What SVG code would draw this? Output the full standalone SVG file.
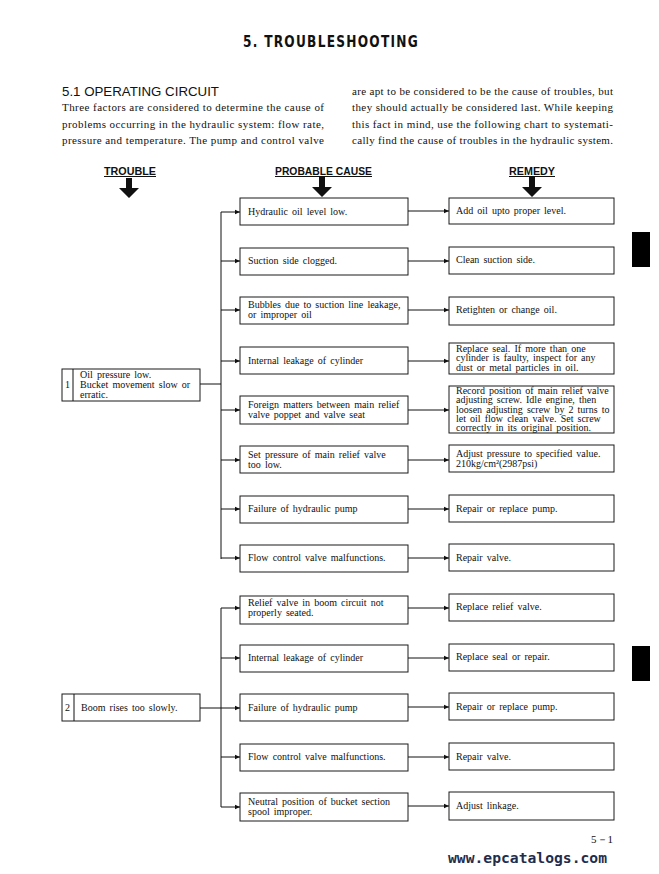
<svg xmlns="http://www.w3.org/2000/svg" width="659" height="874" viewBox="0 0 659 874">
<style>
.box{fill:#fff;stroke:#1a1a1a;stroke-width:1}
.t{font-family:"Liberation Serif",serif;font-size:10px;fill:#111;word-spacing:1.6px}
.b{font-family:"Liberation Serif",serif;font-size:11px;fill:#111}
.h{font-family:"Liberation Sans",Arial,sans-serif;font-size:10px;font-weight:bold;fill:#111;text-decoration:underline}
.c{stroke:#111;stroke-width:1;fill:none}
.a{stroke:#111;stroke-width:1;fill:none;marker-end:url(#ah)}
.big{fill:#111}
</style>
<defs>
<marker id="ah" markerUnits="userSpaceOnUse" markerWidth="6" markerHeight="6" refX="5" refY="3" orient="auto">
<path d="M0,0.8 L5,3 L0,5.2 z" fill="#111"/>
</marker>
</defs>
<rect width="659" height="874" fill="#fff"/>

<g id="title">
<text x="331" y="47" text-anchor="middle" font-family="'DejaVu Sans Condensed','DejaVu Sans',sans-serif" font-weight="bold" font-size="16" letter-spacing="1.5" textLength="176" lengthAdjust="spacingAndGlyphs" fill="#111">5. TROUBLESHOOTING</text>
</g>
<g id="intro">
<text x="62" y="96" font-family="'Liberation Sans',Arial,sans-serif" font-size="13" fill="#111" textLength="157" lengthAdjust="spacingAndGlyphs">5.1  OPERATING CIRCUIT</text>
<text class="b" x="62" y="111" textLength="262" lengthAdjust="spacing">Three factors are considered to determine the cause of</text>
<text class="b" x="62" y="128" textLength="262" lengthAdjust="spacing">problems occurring in the hydraulic system:  flow rate,</text>
<text class="b" x="62" y="144" textLength="262" lengthAdjust="spacing">pressure and temperature.  The pump and control valve</text>
<text class="b" x="352" y="95" textLength="261" lengthAdjust="spacing">are apt to be considered to be the cause of troubles, but</text>
<text class="b" x="352" y="111" textLength="261" lengthAdjust="spacing">they should actually be considered last.  While keeping</text>
<text class="b" x="352" y="128" textLength="261" lengthAdjust="spacing">this fact in mind, use the following chart to systemati-</text>
<text class="b" x="352" y="144" textLength="261" lengthAdjust="spacing">cally find the cause of troubles in the hydraulic system.</text>
</g>

<g id="headers">
<text class="h" x="104" y="175" textLength="52" lengthAdjust="spacingAndGlyphs">TROUBLE</text>
<text class="h" x="275" y="175" textLength="97" lengthAdjust="spacingAndGlyphs">PROBABLE CAUSE</text>
<text class="h" x="509" y="175" textLength="46" lengthAdjust="spacingAndGlyphs">REMEDY</text>
<path class="big" d="M126,178 h6 v10 h7 l-10,10 l-10,-10 h7 z"/>
<path class="big" d="M319,177 h6 v10 h7 l-10,10 l-10,-10 h7 z"/>
<path class="big" d="M529,177 h6 v10 h7 l-10,10 l-10,-10 h7 z"/>
</g>

<g id="connectors">
<line class="c" x1="221" y1="212" x2="221" y2="559"/>
<line class="c" x1="200" y1="384" x2="221" y2="384"/>
<line class="a" x1="221" y1="212" x2="240" y2="212"/>
<line class="a" x1="221" y1="261" x2="240" y2="261"/>
<line class="a" x1="221" y1="310" x2="240" y2="310"/>
<line class="a" x1="221" y1="361" x2="240" y2="361"/>
<line class="a" x1="221" y1="410" x2="240" y2="410"/>
<line class="a" x1="221" y1="460" x2="240" y2="460"/>
<line class="a" x1="221" y1="509" x2="240" y2="509"/>
<line class="a" x1="221" y1="558" x2="240" y2="558"/>
<line class="a" x1="408" y1="211" x2="449" y2="211"/>
<line class="a" x1="408" y1="261" x2="449" y2="261"/>
<line class="a" x1="408" y1="310" x2="449" y2="310"/>
<line class="a" x1="408" y1="361" x2="449" y2="361"/>
<line class="a" x1="408" y1="410" x2="449" y2="410"/>
<line class="a" x1="408" y1="460" x2="449" y2="460"/>
<line class="a" x1="408" y1="509" x2="449" y2="509"/>
<line class="a" x1="408" y1="558" x2="449" y2="558"/>

<line class="c" x1="221" y1="608" x2="221" y2="807"/>
<line class="c" x1="200" y1="708" x2="221" y2="708"/>
<line class="a" x1="221" y1="608" x2="240" y2="608"/>
<line class="a" x1="221" y1="658" x2="240" y2="658"/>
<line class="a" x1="221" y1="708" x2="240" y2="708"/>
<line class="a" x1="221" y1="757" x2="240" y2="757"/>
<line class="a" x1="221" y1="807" x2="240" y2="807"/>
<line class="a" x1="408" y1="608" x2="449" y2="608"/>
<line class="a" x1="408" y1="658" x2="449" y2="658"/>
<line class="a" x1="408" y1="707" x2="449" y2="707"/>
<line class="a" x1="408" y1="757" x2="449" y2="757"/>
<line class="a" x1="408" y1="806" x2="449" y2="806"/>
</g>

<g id="trouble1">
<rect class="box" x="62" y="369" width="138" height="32"/>
<line class="c" x1="73" y1="369" x2="73" y2="401"/>
<text class="t" x="65" y="388">1</text>
<text class="t" x="80" y="378">Oil pressure low.</text>
<text class="t" x="80" y="388">Bucket movement slow or</text>
<text class="t" x="80" y="398">erratic.</text>
</g>
<g id="trouble2">
<rect class="box" x="62" y="694" width="138" height="27"/>
<line class="c" x1="74" y1="694" x2="74" y2="721"/>
<text class="t" x="65" y="711">2</text>
<text class="t" x="81" y="711">Boom rises too slowly.</text>
</g>

<g id="cause1-1"><rect class="box" x="240" y="198" width="168" height="27"/><text class="t" x="248" y="215">Hydraulic oil level low.</text></g>
<g id="cause1-2"><rect class="box" x="240" y="248" width="168" height="27"/><text class="t" x="248" y="264">Suction side clogged.</text></g>
<g id="cause1-3"><rect class="box" x="240" y="297" width="168" height="27"/><text class="t" x="248" y="308">Bubbles due to suction line leakage,</text><text class="t" x="248" y="318">or improper oil</text></g>
<g id="cause1-4"><rect class="box" x="240" y="347" width="168" height="27"/><text class="t" x="248" y="364">Internal leakage of cylinder</text></g>
<g id="cause1-5"><rect class="box" x="240" y="396" width="168" height="28"/><text class="t" x="248" y="408">Foreign matters between main relief</text><text class="t" x="248" y="418">valve poppet and valve seat</text></g>
<g id="cause1-6"><rect class="box" x="240" y="446" width="168" height="27"/><text class="t" x="248" y="458">Set pressure of main relief valve</text><text class="t" x="248" y="468">too low.</text></g>
<g id="cause1-7"><rect class="box" x="240" y="496" width="168" height="27"/><text class="t" x="248" y="512">Failure of hydraulic pump</text></g>
<g id="cause1-8"><rect class="box" x="240" y="545" width="168" height="27"/><text class="t" x="248" y="561">Flow control valve malfunctions.</text></g>

<g id="remedy1-1"><rect class="box" x="449" y="198" width="165" height="26"/><text class="t" x="456" y="214">Add oil upto proper level.</text></g>
<g id="remedy1-2"><rect class="box" x="449" y="247" width="165" height="27"/><text class="t" x="456" y="263">Clean suction side.</text></g>
<g id="remedy1-3"><rect class="box" x="449" y="297" width="165" height="28"/><text class="t" x="456" y="313">Retighten or change oil.</text></g>
<g id="remedy1-4"><rect class="box" x="449" y="343" width="165" height="31"/><text class="t" x="456" y="351.5">Replace seal.  If more than one</text><text class="t" x="456" y="361">cylinder is faulty, inspect for any</text><text class="t" x="456" y="370.5">dust or metal particles in oil.</text></g>
<g id="remedy1-5"><rect class="box" x="449" y="386" width="165" height="47"/><text class="t" x="456" y="394">Record position of main relief valve</text><text class="t" x="456" y="403.3">adjusting screw.  Idle engine, then</text><text class="t" x="456" y="412.6">loosen adjusting screw by 2 turns to</text><text class="t" x="456" y="421.9">let oil flow clean valve.  Set screw</text><text class="t" x="456" y="431.2">correctly in its original position.</text></g>
<g id="remedy1-6"><rect class="box" x="449" y="445" width="165" height="27"/><text class="t" x="456" y="457">Adjust pressure to specified value.</text><text class="t" x="456" y="467">210kg/cm²(2987psi)</text></g>
<g id="remedy1-7"><rect class="box" x="449" y="495" width="165" height="27"/><text class="t" x="456" y="512">Repair or replace pump.</text></g>
<g id="remedy1-8"><rect class="box" x="449" y="544" width="165" height="27"/><text class="t" x="456" y="561">Repair valve.</text></g>

<g id="cause2-1"><rect class="box" x="240" y="596" width="168" height="28"/><text class="t" x="248" y="606">Relief valve in boom circuit not</text><text class="t" x="248" y="616">properly seated.</text></g>
<g id="cause2-2"><rect class="box" x="240" y="645" width="168" height="27"/><text class="t" x="248" y="661">Internal leakage of cylinder</text></g>
<g id="cause2-3"><rect class="box" x="240" y="694" width="168" height="27"/><text class="t" x="248" y="711">Failure of hydraulic pump</text></g>
<g id="cause2-4"><rect class="box" x="240" y="744" width="168" height="27"/><text class="t" x="248" y="760">Flow control valve malfunctions.</text></g>
<g id="cause2-5"><rect class="box" x="240" y="793" width="168" height="28"/><text class="t" x="248" y="805">Neutral position of bucket section</text><text class="t" x="248" y="815">spool improper.</text></g>

<g id="remedy2-1"><rect class="box" x="449" y="594" width="165" height="27"/><text class="t" x="456" y="610">Replace relief valve.</text></g>
<g id="remedy2-2"><rect class="box" x="449" y="644" width="165" height="27"/><text class="t" x="456" y="660">Replace seal or repair.</text></g>
<g id="remedy2-3"><rect class="box" x="449" y="693" width="165" height="27"/><text class="t" x="456" y="710">Repair or replace pump.</text></g>
<g id="remedy2-4"><rect class="box" x="449" y="743" width="165" height="27"/><text class="t" x="456" y="760">Repair valve.</text></g>
<g id="remedy2-5"><rect class="box" x="449" y="792" width="165" height="28"/><text class="t" x="456" y="809">Adjust linkage.</text></g>

<g id="tabs">
<rect x="632" y="232" width="18" height="35" fill="#000"/>
<rect x="632" y="646" width="18" height="35" fill="#000"/>
</g>
<g id="footer">
<text x="613" y="843" text-anchor="end" font-family="'Liberation Serif',serif" font-size="11" fill="#111">5－1</text>
<text x="448" y="863" font-family="'DejaVu Sans Mono',monospace" font-weight="bold" font-size="14.5" fill="#1f2d4d" textLength="159" lengthAdjust="spacingAndGlyphs">www.epcatalogs.com</text>
</g>
</svg>
